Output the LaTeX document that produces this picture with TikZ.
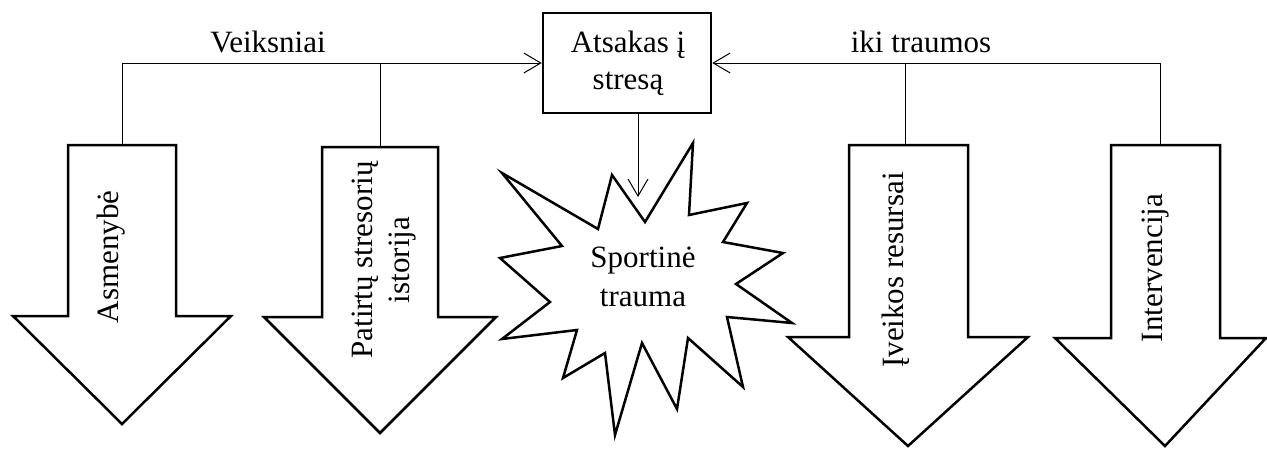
\documentclass[tikz,border=0pt]{standalone}
\usepackage{fontspec}
\setmainfont{Liberation Serif}
\usetikzlibrary{arrows.meta}
\begin{document}
\begin{tikzpicture}[x=1pt,y=-1pt,
  thinline/.style={line width=1pt},
  bigarrow/.style={draw, line width=2.5pt, fill=white, line join=miter},
  lbl/.style={font=\fontsize{31}{37}\selectfont, inner sep=0pt, anchor=base},
  conn/.style={line width=1pt, -{Straight Barb[length=17pt,width=20pt,line width=1pt]}}]
\useasboundingbox (0,0) rectangle (1267,448);

% central box
\node[draw, line width=2.5pt, minimum width=168pt, minimum height=100pt, inner sep=0pt] (box) at (627,63) {};
\node[lbl] (boxt1) at (628,52) {Atsakas į};
\node[lbl] (boxt2) at (628,89) {stresą};

% block arrows
\draw[bigarrow] (68,145) -- (176,145) -- (176,316) -- (231,316) -- (122,424) -- (13,316) -- (68,316) -- cycle;
\coordinate (a1) at (122,145);
\draw[bigarrow] (322,147) -- (438,147) -- (438,317) -- (496,317) -- (380,433) -- (264,317) -- (322,317) -- cycle;
\coordinate (a2) at (380,147);
\draw[bigarrow] (849,145) -- (968,145) -- (968,337) -- (1028,337) -- (908,446) -- (788,337) -- (849,337) -- cycle;
\coordinate (a4) at (905,145);
\draw[bigarrow] (1111,145) -- (1220,145) -- (1220,338) -- (1266,338) -- (1165,446) -- (1055,338) -- (1111,338) -- cycle;
\coordinate (a5) at (1160,145);

% starburst
\draw[line width=2.5pt, fill=white, line join=miter, miter limit=20]
  (645,222) -- (693,143) -- (689,215) -- (747,203) -- (723,242) -- (783,253)
  -- (736,284) -- (792,323) -- (727,317) -- (743,387) -- (688,338) -- (677,409)
  -- (642,343) -- (615,435) -- (605,353) -- (563,378) -- (577,330) -- (502,339)
  -- (550,302) -- (500,258) -- (562,246) -- (502,173) -- (598,229) -- (612,175) -- cycle;
\node[lbl] (st1) at (643,267) {Sportinė};
\node[lbl] (st2) at (643,306) {trauma};
\coordinate (hit) at (638,197);

% connectors
\draw[conn] (a1) |- (box.west);
\draw[thinline] (a2) -- (a2 |- box.west);
\draw[conn] (a5) |- (box.east);
\draw[thinline] (a4) -- (a4 |- box.east);
\draw[conn] ([xshift=11pt]box.south) -- (hit);

% top labels
\node[lbl] (veik) at (268,52) {Veiksniai};
\node[lbl] (iki) at (921,52) {iki traumos};

% rotated labels
\node[lbl, rotate=90] (asm) at (118,257) {Asmenybė};
\node[lbl, rotate=90] (pat1) at (372,260) {Patirtų stresorių};
\node[lbl, rotate=90] (pat2) at (409,260) {istorija};
\node[lbl, rotate=90] (ivk) at (903,270) {Įveikos resursai};
\node[lbl, rotate=90] (intv) at (1162,268) {Intervencija};
\end{tikzpicture}
\end{document}
